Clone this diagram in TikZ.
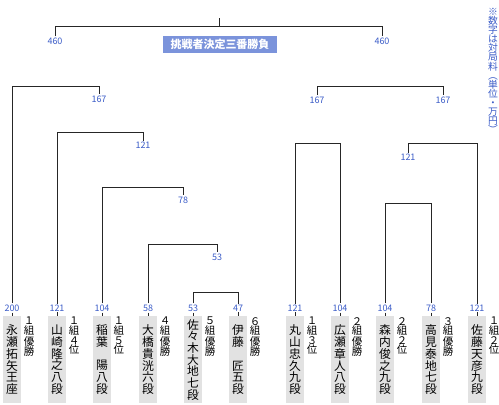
\documentclass[tikz,border=0pt]{standalone}
\usepackage{fontspec}
\setmainfont{Noto Sans CJK JP}
\usetikzlibrary{calc}

\definecolor{feeblue}{HTML}{3A5BC7}
\definecolor{titleblue}{HTML}{7B93DB}
\definecolor{boxgray}{HTML}{E2E2E2}

\begin{document}
\begin{tikzpicture}[x=1pt,y=-1pt,
        line/.style={black!85, line width=0.9pt},
        fee/.style={text=feeblue, font=\fontsize{9}{9}\selectfont, inner sep=1pt},
        namebox/.style={fill=boxgray, anchor=north, minimum width=18pt, minimum height=87pt,
            inner sep=0pt, align=center, font=\fontsize{11.8}{11.7}\selectfont},
        sidetext/.style={anchor=north, inner sep=0pt, align=center, font=\fontsize{10.5}{9.6}\selectfont}]
        \useasboundingbox (0,0) rectangle (499,405);

        % Players, fees and league results
        \foreach \i/\x/\money/\name/\side in {
            1/12/200/{永\\瀬\\拓\\矢\\王\\座}/{１\\組\\優\\勝},
            2/57/121/{山\\崎\\隆\\之\\八\\段}/{１\\組\\４\\位},
            3/102/104/{稲\\葉\\\mbox{}\\陽\\八\\段}/{１\\組\\５\\位},
            4/148/58/{大\\橋\\貴\\洸\\六\\段}/{４\\組\\優\\勝},
            5/193/53/{佐\\々\\木\\大\\地\\七\\段}/{５\\組\\優\\勝},
            6/238/47/{伊\\藤\\\mbox{}\\匠\\五\\段}/{６\\組\\優\\勝},
            7/295/121/{丸\\山\\忠\\久\\九\\段}/{１\\組\\３\\位},
            8/340/104/{広\\瀬\\章\\人\\八\\段}/{２\\組\\優\\勝},
            9/385/104/{森\\内\\俊\\之\\九\\段}/{２\\組\\２\\位},
            10/431/78/{高\\見\\泰\\地\\七\\段}/{３\\組\\優\\勝},
            11/477/121/{佐\\藤\\天\\彦\\九\\段}/{１\\組\\２\\位}} {
            \node[namebox] (p\i) at (\x,316) {\name};
            \node[fee] (n\i) at (\x,308) {\money};
            \node[sidetext] (s\i) at (\x+17,317) {\side};
            \draw[line] (n\i.south) -- (p\i.north);
        }

        % Left ladder
        \foreach \i/\lab/\x/\y/\money in {1/A/99/86/167, 2/B/143/132/121, 3/C/183/187/78, 4/D/217/244/53} {
            \node[fee] (l\lab) at (\x,\y+13) {\money};
            \draw[line] (n\i.north) -- (n\i.north |- 0,\y) -| (l\lab.north);
        }
        \draw[line] (n5.north) -- (n5.north |- 0,292) -| (n6.north);

        % Right side
        \node[fee] (rA) at (317,100) {167};
        \node[fee] (rB) at (443,100) {167};
        \node[fee] (rC) at (408,157) {121};
        \draw[line] (rA.north) -- (rA.north |- 0,86) -| (rB.north);
        \draw[line] (n7.north) -- (n7.north |- 0,143) -| (n8.north);
        \draw[line] (rC.north) -- (rC.north |- 0,143) -| (n11.north);
        \draw[line] (n9.north) -- (n9.north |- 0,203) -| (n10.north);

        % Final
        \node[fee] (fA) at (55,41) {460};
        \node[fee] (fB) at (382,41) {460};
        \coordinate (top) at (219,18);
        \draw[line] (fA.north) -- (fA.north |- 0,26) -| (fB.north);
        \draw[line] (top) -- (top |- 0,26);
        \node[fill=titleblue, text=white, font=\fontsize{11}{11}\selectfont\bfseries,
            minimum width=114pt, minimum height=17pt, inner sep=0pt] (title) at (220,44.5) {挑戦者決定三番勝負};

        % Note
        \node[text=feeblue, anchor=north, align=center, inner sep=0pt,
            font=\fontsize{9.8}{9.1}\selectfont] (note) at (493,8)
            {※\\数\\字\\は\\対\\局\\料\\︵\\単\\位\\・\\万\\円\\︶};
    \end{tikzpicture}
\end{document}
